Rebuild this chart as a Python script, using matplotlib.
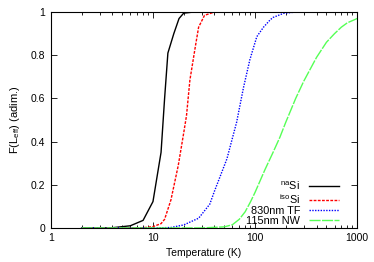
import matplotlib
matplotlib.use("Agg")
import matplotlib.pyplot as plt
from matplotlib.ticker import LogLocator, NullFormatter, FixedLocator

plt.rcParams['font.family'] = ['Liberation Sans', 'DejaVu Sans']
plt.rcParams['mathtext.fontset'] = 'custom'
plt.rcParams['mathtext.rm'] = 'Liberation Sans'
plt.rcParams['mathtext.it'] = 'Liberation Sans'
plt.rcParams['mathtext.default'] = 'regular'

# Data
T_na = [2, 4, 6, 8, 10, 12, 13, 14, 16, 18, 20, 25, 30, 50, 100, 1000]
F_na = [0.0, 0.001, 0.01, 0.035, 0.122, 0.35, 0.6, 0.81, 0.9, 0.97, 0.995, 1.0, 1.0, 1.0, 1.0, 1.0]

T_iso = [2, 8, 10, 12, 13, 15, 17.7, 20, 21.3, 23, 26, 28, 32, 40, 100, 1000]
F_iso = [0.0, 0.001, 0.006, 0.02, 0.04, 0.13, 0.29, 0.44, 0.52, 0.685, 0.84, 0.93, 0.985, 1.0, 1.0, 1.0]

T_tf = [2, 10, 15, 20, 28, 36, 40, 53, 66, 77, 89, 104, 121, 140, 150, 190, 250, 1000]
F_tf = [0.0, 0.0, 0.002, 0.014, 0.045, 0.11, 0.17, 0.32, 0.49, 0.65, 0.78, 0.886, 0.93, 0.963, 0.975, 0.994, 1.0, 1.0]

T_nw = [2, 30, 50, 60, 70, 80, 90, 100, 125, 150, 175, 200, 250, 300, 400, 500, 600, 700, 800, 1000]
F_nw = [0.0, 0.0, 0.005, 0.015, 0.04, 0.075, 0.12, 0.165, 0.27, 0.35, 0.42, 0.49, 0.6, 0.68, 0.79, 0.86, 0.9, 0.93, 0.95, 0.97]

labels = [r'$^{na}$Si', r'$^{iso}$Si', '830nm TF', '115nm NW']

fig = plt.figure(figsize=(3.74, 2.62), dpi=100)
ax = fig.add_axes([0.136, 0.130, 0.819, 0.824])

ax.plot(T_na, F_na, color='black', lw=1.0, label=labels[0])
ax.plot(T_iso, F_iso, color='#ff0000', lw=1.0, ls=(0, (2, 1)), label=labels[1])
ax.plot(T_tf, F_tf, color='#0000ff', lw=1.0, ls=(0, (1, 1)), label=labels[2])
ax.plot(T_nw, F_nw, color='#55ff55', lw=1.0, ls=(0, (8, 1)), label=labels[3])

ax.set_xscale('log')
ax.set_xlim(1, 1000)
ax.set_ylim(0, 1)
ax.xaxis.set_major_locator(FixedLocator([1, 10, 100, 1000]))
ax.set_xticklabels(['1', '10', '100', '1000'])
ax.xaxis.set_minor_locator(LogLocator(base=10, subs=range(2, 10)))
ax.xaxis.set_minor_formatter(NullFormatter())
ax.set_yticks([0, 0.2, 0.4, 0.6, 0.8, 1.0])
ax.set_yticklabels(['0', '0.2', '0.4', '0.6', '0.8', '1'])

ax.tick_params(which='both', direction='in', top=True, right=True, labelsize=7.5, pad=4)
ax.tick_params(which='major', length=4, width=0.6)
ax.tick_params(which='minor', length=2, width=0.6)
for s in ax.spines.values():
    s.set_linewidth(0.8)

ax.set_xlabel('Temperature (K)', fontsize=7.5, labelpad=3)
ax.set_ylabel(r'F(L$_{eff}$) (adim.)', fontsize=8, labelpad=6)

leg = ax.legend(loc='lower right', frameon=False, markerfirst=False, fontsize=7.8,
                handlelength=2.8, handletextpad=0.8, labelspacing=0.0,
                borderaxespad=0.0, bbox_to_anchor=(0.955, -0.01))
for t in leg.get_texts():
    t.set_ha('right')

fig.savefig('out.png', dpi=100)
